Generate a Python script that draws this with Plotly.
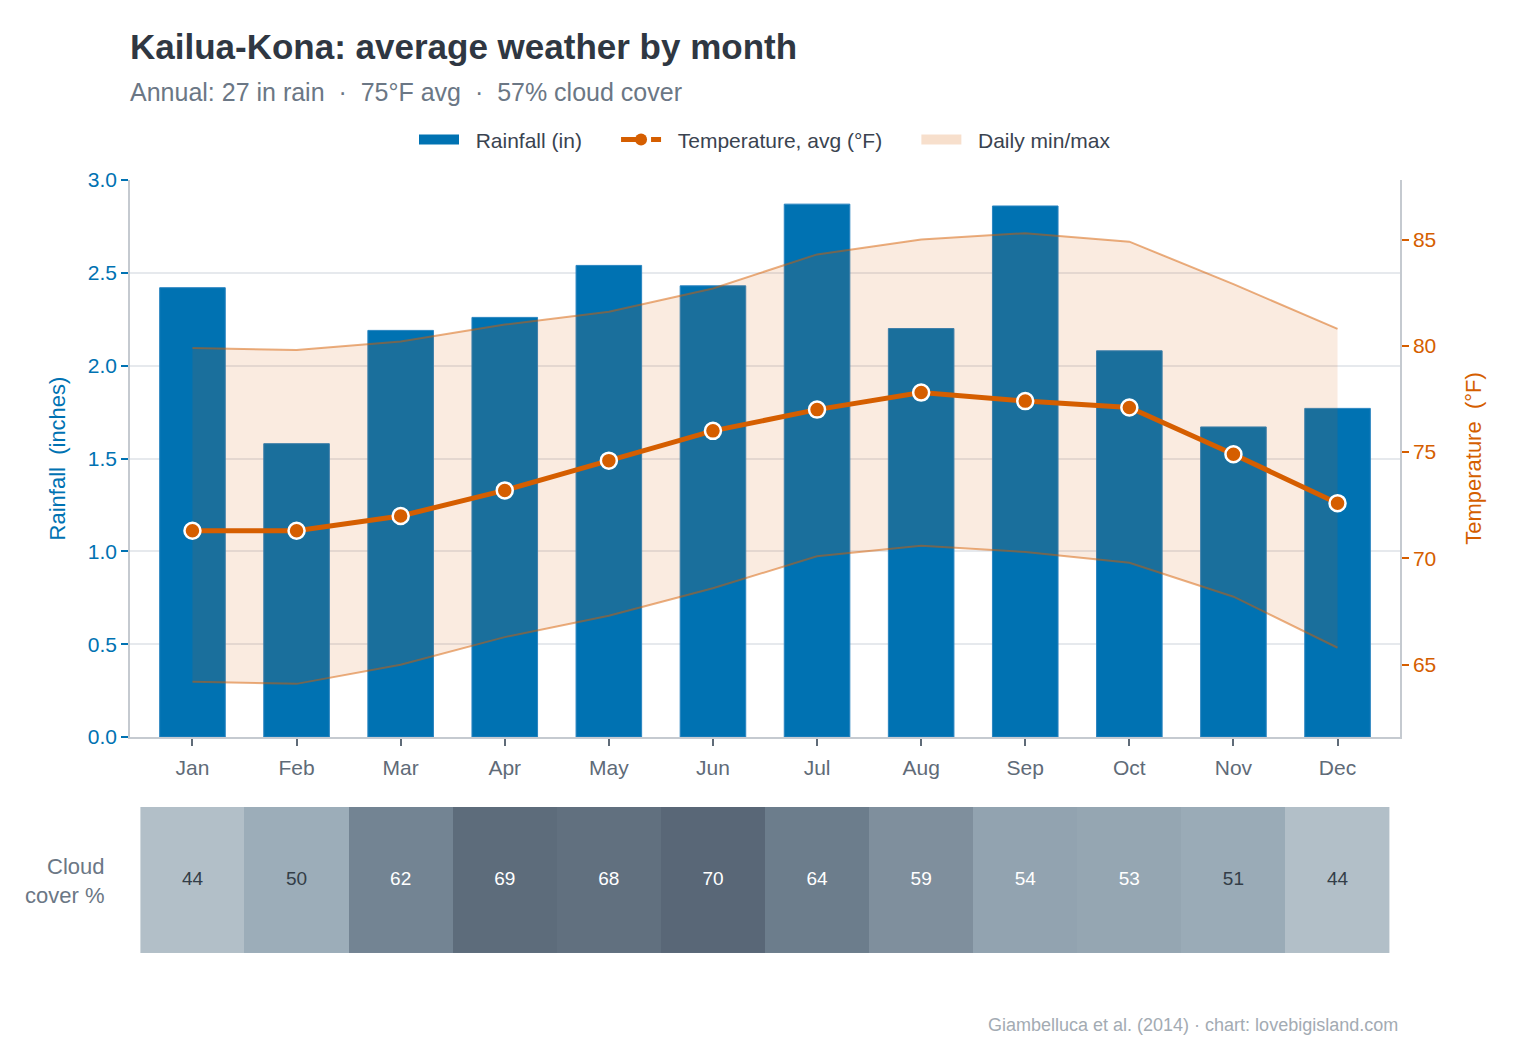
import plotly.graph_objects as go

months = ["Jan", "Feb", "Mar", "Apr", "May", "Jun", "Jul", "Aug", "Sep", "Oct", "Nov", "Dec"]
rainfall_in = [2.42, 1.58, 2.19, 2.26, 2.54, 2.43, 2.87, 2.20, 2.86, 2.08, 1.67, 1.77]
temp_avg_f = [71.3, 71.3, 72.0, 73.2, 74.6, 76.0, 77.0, 77.8, 77.4, 77.1, 74.9, 72.6]
temp_max_f = [79.9, 79.8, 80.2, 81.0, 81.6, 82.7, 84.3, 85.0, 85.3, 84.9, 82.9, 80.8]
temp_min_f = [64.2, 64.1, 65.0, 66.3, 67.3, 68.6, 70.1, 70.6, 70.3, 69.8, 68.2, 65.8]
cloud_pct = [44, 50, 62, 69, 68, 70, 64, 59, 54, 53, 51, 44]

FONT = "Liberation Sans, Arial, Helvetica, sans-serif"
BLUE = "#0072B2"
ORANGE = "#D55E00"
GRID = "#e6e9ed"
AXLINE = "#c5cad0"
GRAYTXT = "#5f6b78"
NB = "\u00a0"

fig = go.Figure()

fig.add_trace(go.Bar(
    x=months, y=rainfall_in, name="Rainfall (in)", showlegend=False,
    marker=dict(color=BLUE, line=dict(color="#2a84c0", width=1)),
    width=0.63, xaxis="x", yaxis="y",
    hoverinfo="skip",
))

fig.add_trace(go.Scatter(
    x=months, y=temp_min_f, mode="lines", showlegend=False,
    line=dict(color="rgba(213,94,0,0.5)", width=2),
    xaxis="x", yaxis="y2", hoverinfo="skip",
))
fig.add_trace(go.Scatter(
    x=months, y=temp_max_f, mode="lines", name="Daily min/max",
    fill="tonexty", fillcolor="rgba(213,94,0,0.12)", showlegend=False,
    line=dict(color="rgba(213,94,0,0.5)", width=2),
    xaxis="x", yaxis="y2", hoverinfo="skip",
))

fig.add_trace(go.Scatter(
    x=months, y=temp_avg_f, mode="lines+markers", name="Temperature, avg (°F)",
    line=dict(color=ORANGE, width=5), showlegend=False,
    marker=dict(color=ORANGE, size=16, line=dict(color="white", width=2.5)),
    xaxis="x", yaxis="y2",
))

# legend-only entries
fig.add_trace(go.Scatter(
    x=[None], y=[None], mode="lines", name=NB * 2 + "Rainfall (in)" + NB * 5,
    line=dict(color=BLUE, width=16), xaxis="x", yaxis="y",
))
fig.add_trace(go.Scatter(
    x=[None], y=[None], mode="lines+markers", name=NB * 2 + "Temperature, avg (°F)" + NB * 5,
    line=dict(color=ORANGE, width=5, dash="dash"),
    marker=dict(color=ORANGE, size=12), xaxis="x", yaxis="y2",
))
fig.add_trace(go.Scatter(
    x=[None], y=[None], mode="lines", name=NB * 2 + "Daily min/max",
    line=dict(color="rgba(213,94,0,0.2)", width=16), xaxis="x", yaxis="y2",
))

# cloud cover strip
cloud_scale = [
    [0.0, "#b2bfc8"],
    [6 / 26, "#9cadb9"],
    [10 / 26, "#92a3b0"],
    [15 / 26, "#7f8f9d"],
    [19 / 26, "#6f808f"],
    [24 / 26, "#61707f"],
    [1.0, "#596777"],
]
fig.add_trace(go.Heatmap(
    x=months, y=["Cloud"], z=[cloud_pct],
    colorscale=cloud_scale, zmin=44, zmax=70, showscale=False,
    xaxis="x2", yaxis="y3", xgap=0, ygap=0, hoverinfo="skip",
))
fig.add_trace(go.Scatter(
    x=months, y=["Cloud"] * len(months), mode="text",
    text=[str(v) for v in cloud_pct],
    textfont=dict(family=FONT, size=19,
                  color=["#333d47" if v <= 51 else "white" for v in cloud_pct]),
    xaxis="x2", yaxis="y3", showlegend=False, hoverinfo="skip",
))

fig.update_layout(
    width=1530, height=1054,
    margin=dict(l=130, r=130, t=180, b=101),
    paper_bgcolor="white", plot_bgcolor="white",
    font=dict(family=FONT, color=GRAYTXT),
    barmode="overlay",
    showlegend=True,
    legend=dict(
        orientation="h", x=0.5, xanchor="center", y=1.0518, yanchor="middle",
        font=dict(size=21, color="#3a4350"), traceorder="normal",
        itemwidth=40,
    ),
    xaxis=dict(
        domain=[0, 1], range=[-0.6, 11.6], anchor="y",
        showline=True, linecolor=AXLINE, linewidth=1.5,
        ticks="outside", ticklen=7, tickcolor=GRAYTXT, tickwidth=1.5,
        tickfont=dict(size=21, color=GRAYTXT), showgrid=False,
        ticklabelstandoff=4,
    ),
    yaxis=dict(
        domain=[0.2794, 1], range=[0, 3.0], dtick=0.5, tickformat=".1f",
        showline=True, linecolor=AXLINE, linewidth=1.5,
        ticks="outside", ticklen=7, tickcolor=BLUE, tickwidth=2,
        tickfont=dict(size=21, color=BLUE),
        showgrid=True, gridcolor=GRID, gridwidth=1.5, zeroline=False,
        title=dict(text="Rainfall" + NB + NB + "(inches)", font=dict(size=22, color=BLUE), standoff=16),
    ),
    yaxis2=dict(
        overlaying="y", side="right", anchor="x", range=[61.6, 87.8],
        tickvals=[65, 70, 75, 80, 85],
        showline=True, linecolor=AXLINE, linewidth=1.5,
        ticks="outside", ticklen=7, tickcolor=ORANGE, tickwidth=2,
        tickfont=dict(size=21, color=ORANGE), showgrid=False, zeroline=False,
        title=dict(text="Temperature" + NB + NB + "(°F)", font=dict(size=22, color=ORANGE), standoff=30),
    ),
    xaxis2=dict(
        domain=[0, 1], range=[-0.6, 11.6], anchor="y3",
        visible=False, showgrid=False,
    ),
    yaxis3=dict(domain=[0, 0.1889], visible=False, showgrid=False),
    annotations=[
        dict(text="<b>Kailua-Kona: average weather by month</b>", xref="paper", yref="paper",
             x=-0.0015, y=1.1733, xanchor="left", yanchor="middle", showarrow=False,
             font=dict(size=35, color="#2f3742")),
        dict(text="Annual: 27 in rain" + NB + NB + "·" + NB + NB + "75°F avg" + NB + NB + "·" + NB + NB + "57% cloud cover",
             xref="paper", yref="paper",
             x=-0.0015, y=1.1139, xanchor="left", yanchor="middle", showarrow=False,
             font=dict(size=25, color="#6b7785")),
        dict(text="Cloud<br>cover %", xref="paper", yref="paper",
             x=-0.0189, y=0.0931, xanchor="right", yanchor="middle", align="right",
             showarrow=False, font=dict(size=22, color="#6b7785")),
        dict(text="Giambelluca et al. (2014) · chart: lovebigisland.com", xref="paper", yref="paper",
             x=1, y=-0.0931, xanchor="right", yanchor="middle", showarrow=False,
             font=dict(size=18, color="#a3abb3")),
    ],
)

fig.write_html("out.html")
